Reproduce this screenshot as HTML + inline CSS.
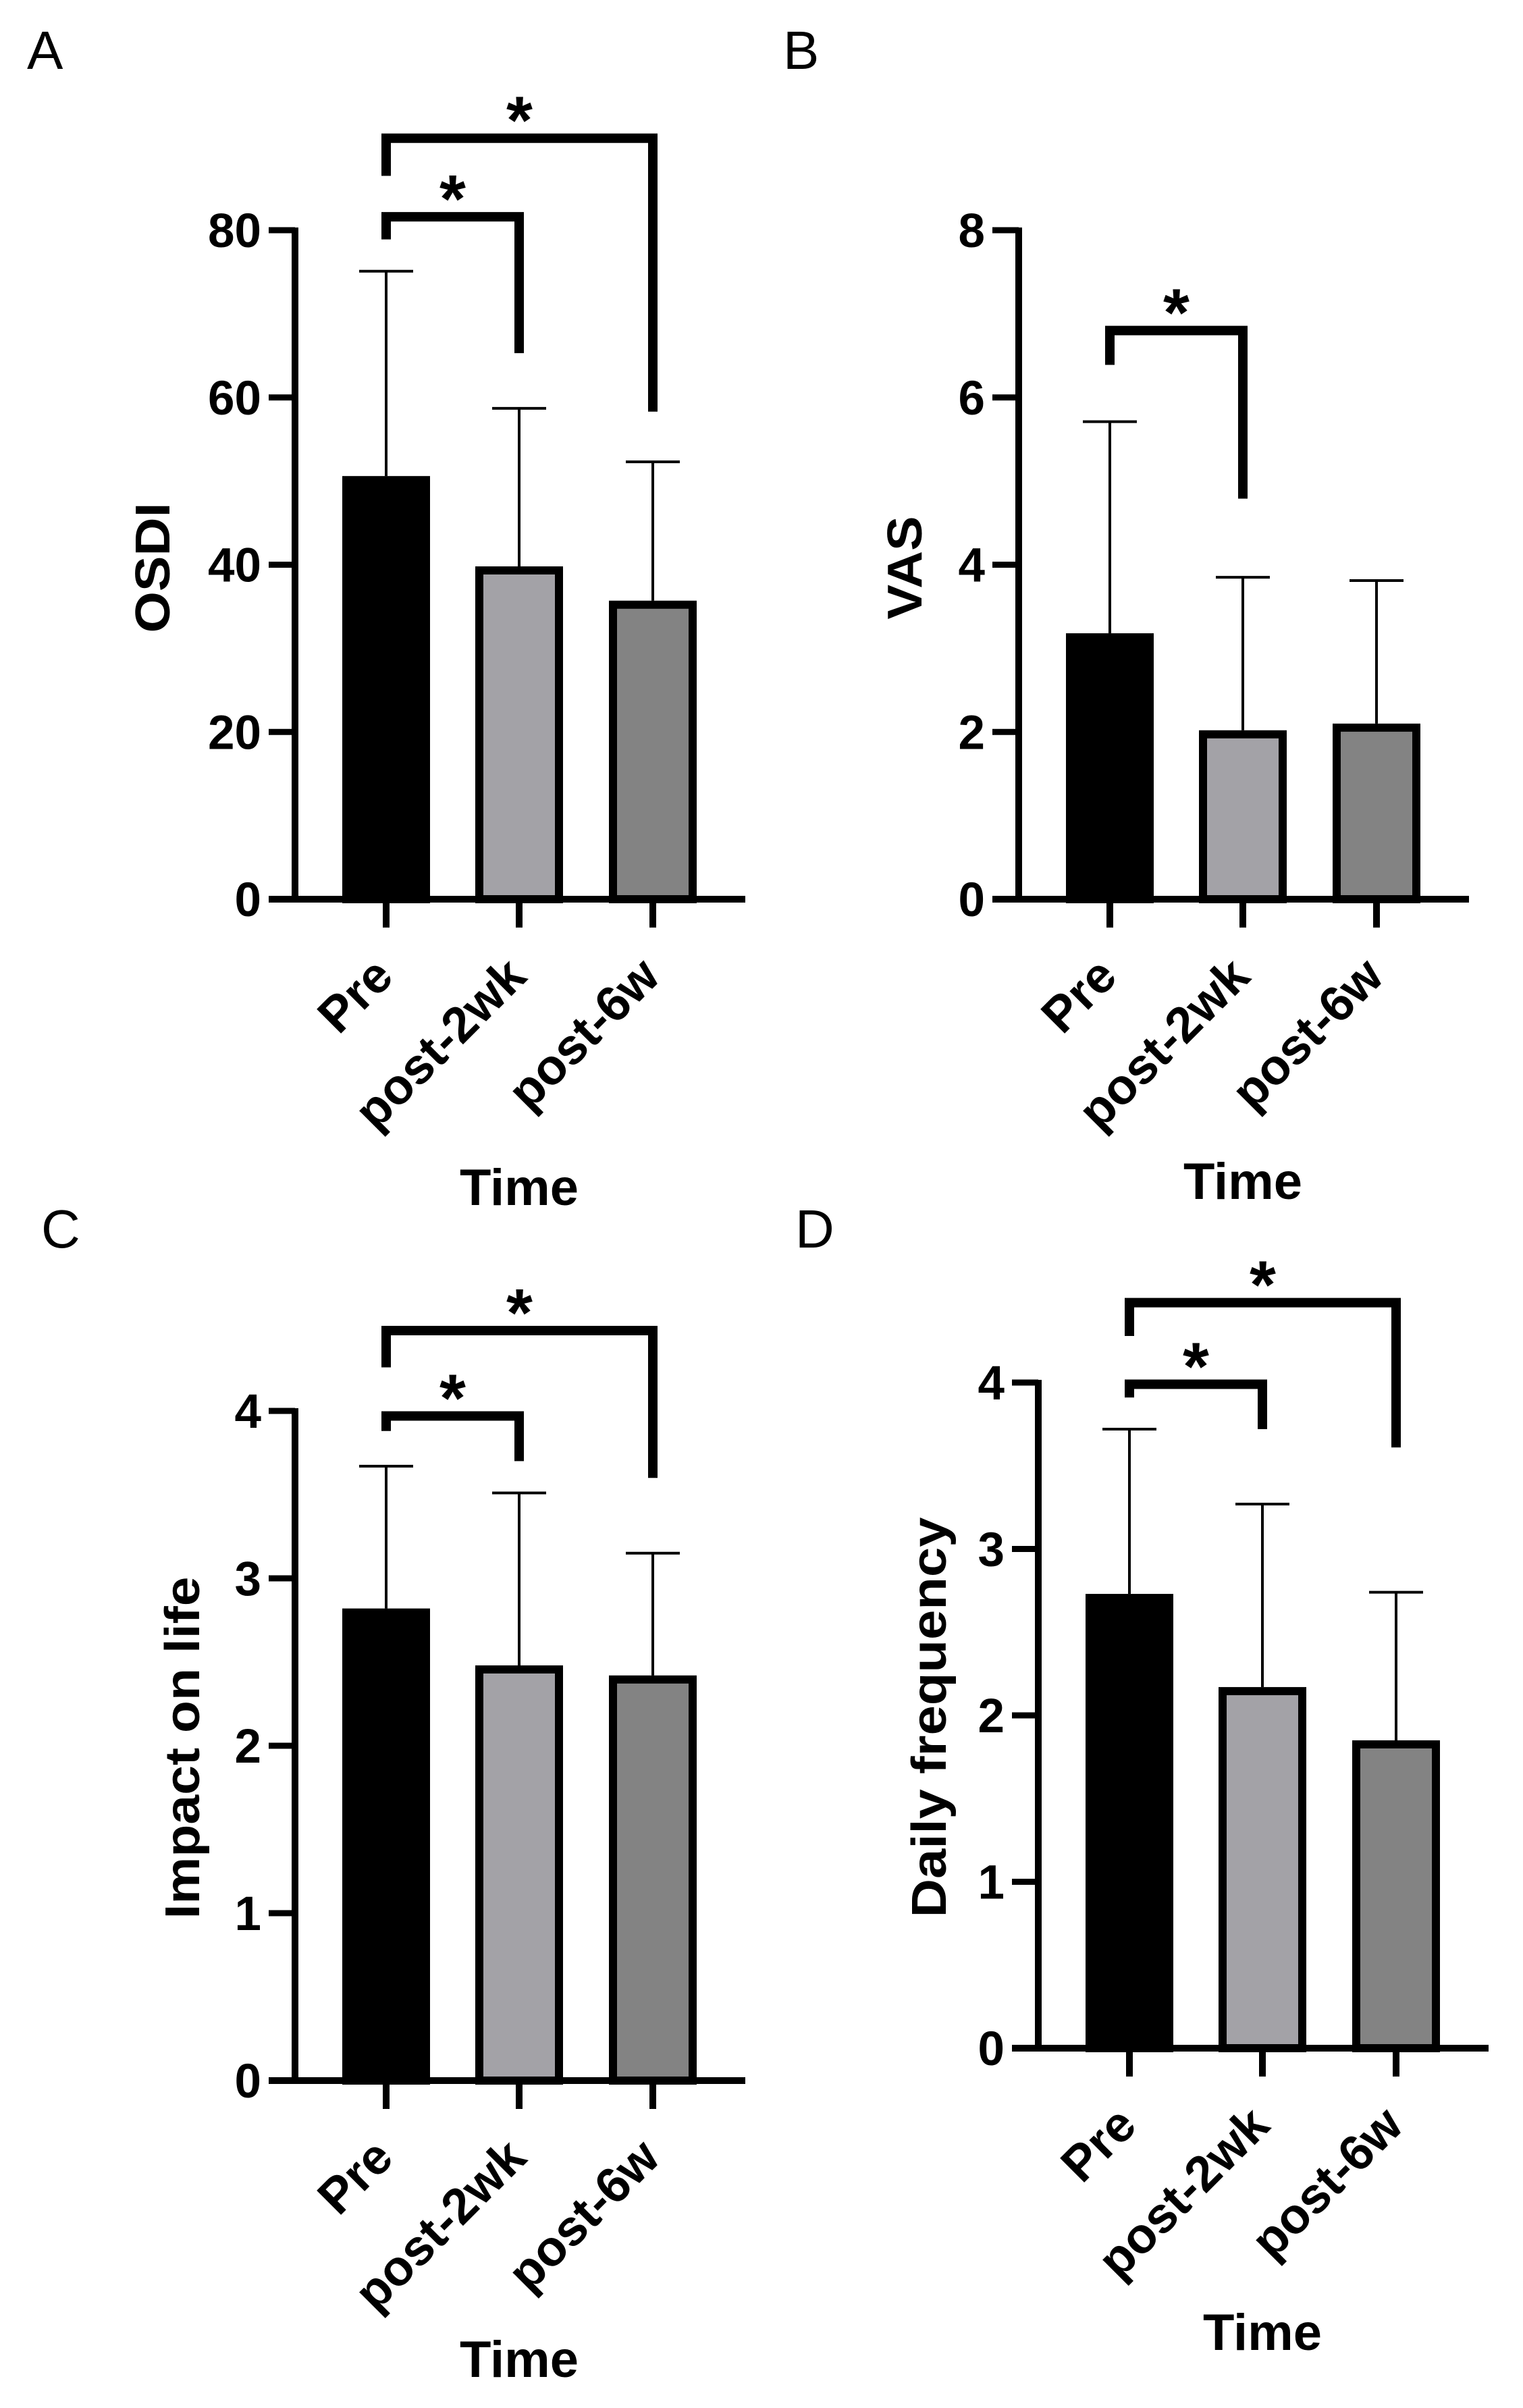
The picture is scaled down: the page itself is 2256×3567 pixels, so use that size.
<!DOCTYPE html>
<html><head><meta charset="utf-8"><style>
html,body{margin:0;padding:0;background:#fff;}
svg{display:block;font-family:"Liberation Sans",Arial,sans-serif;}
</style></head><body>
<svg id="fig" width="2256" height="3567" viewBox="0 0 2256 3567" xmlns="http://www.w3.org/2000/svg">
<rect width="2256" height="3567" fill="#fff"/>
</svg>
<script>
// ---- data ----
const categories = ["Pre", "post-2wk", "post-6w"];
const osdiMeans = [50.6, 39.8, 35.7];
const osdiSD = [24.5, 18.9, 16.6];
const osdiTicks = [0, 20, 40, 60, 80];
const osdiBrackets = [[0, 1, 81.6, 78.9, 65.3], [0, 2, 91.0, 86.5, 58.3]];
const vasMeans = [3.18, 2.02, 2.10];
const vasSD = [2.53, 1.83, 1.71];
const vasTicks = [0, 2, 4, 6, 8];
const vasBrackets = [[0, 1, 6.80, 6.39, 4.79]];
const impactMeans = [2.82, 2.48, 2.42];
const impactSD = [0.85, 1.03, 0.73];
const impactTicks = [0, 1, 2, 3, 4];
const impactBrackets = [[0, 1, 3.97, 3.88, 3.70], [0, 2, 4.48, 4.26, 3.60]];
const freqMeans = [2.73, 2.17, 1.85];
const freqSD = [0.99, 1.10, 0.89];
const freqTicks = [0, 1, 2, 3, 4];
const freqBrackets = [[0, 1, 3.99, 3.91, 3.72], [0, 2, 4.48, 4.28, 3.61]];
const fills = ["#000000", "#a3a2a7", "#838383"];

const NS = "http://www.w3.org/2000/svg";
const svg = document.getElementById("fig");
function mk(tag, attrs, parent) {
  const e = document.createElementNS(NS, tag);
  for (const k in attrs) e.setAttribute(k, attrs[k]);
  (parent || svg).appendChild(e);
  return e;
}

function panel(p) {
  const g = mk("g", {});
  
  
  const ymax = p.ticks[p.ticks.length - 1];
  const k = (p.y0 - p.top) / ymax;
  const Y = v => p.y0 - v * k;
  const offs = [135, 332, 530];
  const X = i => p.axisX + offs[i];

  const letter = mk("text", {x: p.lx, y: p.ly, "font-size": 80, fill: "#000"}, g);
  letter.textContent = p.id;
  
  

  p.means.forEach((m, i) => {
    const cx = X(i), w = 130, sw = 12;
    const top = Y(m);
    const r = mk("rect", {x: cx - w/2 + sw/2, y: top + sw/2, width: w - sw, height: p.y0 - top - sw/2, fill: fills[i], stroke: "#000", "stroke-width": sw}, g);
    
    
    const eTop = Y(m + p.sd[i]);
    const el = mk("path", {d: `M${cx},${top} V${eTop} M${cx-40},${eTop} H${cx+40}`, stroke: "#000", "stroke-width": 4, fill: "none"}, g);
    
    
  });

  const yAx = mk("path", {d: `M${p.axisX},${p.top - 4} V${p.y0}`, stroke: "#000", "stroke-width": 10, fill: "none"}, g);
  
  
  const xAx = mk("path", {d: `M${p.axisX - 39},${p.y0} H${p.axisX + 667}`, stroke: "#000", "stroke-width": 10, fill: "none"}, g);
  
  

  p.ticks.forEach(t => {
    const y = Y(t);
    const tk = mk("path", {d: `M${p.axisX - 39},${y} H${p.axisX}`, stroke: "#000", "stroke-width": 9}, g);
    
    
    const tl = mk("text", {x: p.axisX - 50, y: y + 25, "font-size": 71, "font-weight": "bold", "text-anchor": "end", fill: "#000"}, g);
    tl.textContent = t;
    
    
  });

  categories.forEach((c, i) => {
    const cx = X(i);
    const tk = mk("path", {d: `M${cx},${p.y0} V${p.y0 + 42}`, stroke: "#000", "stroke-width": 10}, g);
    
    
    const bx = cx + 14, by = p.y0 + 118;
    const tl = mk("text", {x: bx, y: by, "font-size": 74, "font-weight": "bold", "text-anchor": "end", fill: "#000", transform: `rotate(-45 ${bx} ${by})`}, g);
    tl.textContent = c;
    
    
  });

  const yt = mk("text", {x: -p.yty, y: 0, "font-size": 72, "font-weight": "bold", "text-anchor": "middle", fill: "#000", textLength: p.ytLen, lengthAdjust: "spacingAndGlyphs", transform: `translate(${p.ytx + 25},0) rotate(-90)`}, g);
  yt.textContent = p.ytitle;
  
  
  const xt = mk("text", {x: X(1), y: p.timeY, "font-size": 76, "font-weight": "bold", "text-anchor": "middle", fill: "#000"}, g);
  xt.textContent = "Time";
  
  

  p.brackets.forEach(b => {
    const x1 = X(b[0]), x2 = X(b[1]);
    const yb = Y(b[2]);
    const br = mk("path", {d: `M${x1},${Y(b[3])} V${yb} H${x2} V${Y(b[4])}`, stroke: "#000", "stroke-width": 14, fill: "none", "stroke-linejoin": "miter"}, g);
    
    
    const st = mk("text", {x: (x1 + x2) / 2, y: yb + 8, "font-size": 100, "font-weight": "bold", "text-anchor": "middle", fill: "#000"}, g);
    st.textContent = "*";
    
    
  });
}

panel({id: "A", means: osdiMeans, sd: osdiSD, ticks: osdiTicks, brackets: osdiBrackets,
  axisX: 437, y0: 1332, top: 341, lx: 40, ly: 102, ytx: 226, yty: 841, ytitle: "OSDI", ytLen: 193, timeY: 1785});
panel({id: "B", means: vasMeans, sd: vasSD, ticks: vasTicks, brackets: vasBrackets,
  axisX: 1509, y0: 1332, top: 341, lx: 1160, ly: 102, ytx: 1340, yty: 841, ytitle: "VAS", ytLen: 153, timeY: 1776});
panel({id: "C", means: impactMeans, sd: impactSD, ticks: impactTicks, brackets: impactBrackets,
  axisX: 437, y0: 3082, top: 2090, lx: 61, ly: 1848, ytx: 270, yty: 2589, ytitle: "Impact on life", ytLen: 507, timeY: 3521});
panel({id: "D", means: freqMeans, sd: freqSD, ticks: freqTicks, brackets: freqBrackets,
  axisX: 1538, y0: 3034, top: 2048, lx: 1178, ly: 1848, ytx: 1376, yty: 2544, ytitle: "Daily frequency", ytLen: 593, timeY: 3481});
</script>
</body></html>
